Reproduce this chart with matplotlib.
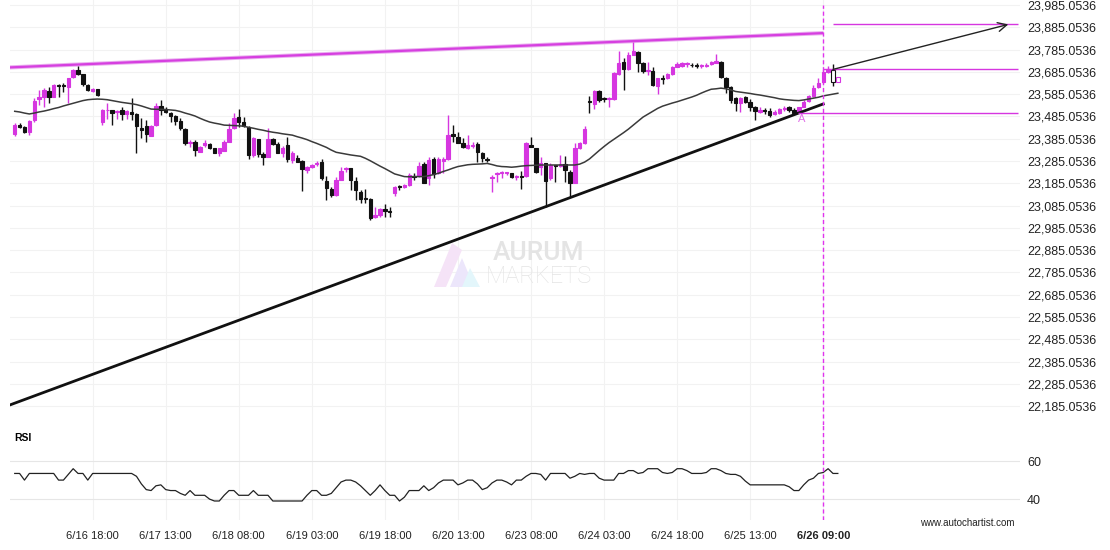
import matplotlib.pyplot as plt
from matplotlib.patches import Polygon
import numpy as np

plt.rcParams['font.family'] = ['Liberation Sans', 'DejaVu Sans']

# hourly candles (oldest first)
open_ = [23406, 23446, 23437, 23415, 23469, 23563, 23572, 23599, 23572, 23626,
         23624, 23619, 23662, 23693, 23675, 23626, 23601, 23608, 23462, 23512,
         23514, 23503, 23514, 23496, 23505, 23498, 23435, 23442, 23397, 23446,
         23532, 23518, 23500, 23488, 23464, 23428, 23367, 23372, 23327, 23357,
         23361, 23342, 23322, 23331, 23372, 23432, 23481, 23461, 23439, 23312,
         23382, 23316, 23304, 23384, 23361, 23322, 23357, 23289, 23297, 23286,
         23245, 23259, 23271, 23282, 23197, 23158, 23132, 23200, 23249, 23252,
         23197, 23147, 23118, 23113, 23032, 23043, 23068, 23059, 23140, 23173,
         23167, 23177, 23218, 23218, 23271, 23207, 23293, 23230, 23286, 23293,
         23404, 23394, 23367, 23342, 23354, 23361, 23322, 23294, 23207, 23227,
         23231, 23231, 23230, 23212, 23216, 23218, 23357, 23342, 23259, 23275,
         23207, 23266, 23264, 23270, 23237, 23188, 23342, 23364, 23553, 23541,
         23599, 23565, 23562, 23562, 23675, 23728, 23696, 23761, 23774, 23726,
         23687, 23689, 23622, 23657, 23656, 23675, 23708, 23711, 23719, 23717,
         23714, 23711, 23713, 23719, 23726, 23731, 23656, 23618, 23566, 23547,
         23571, 23551, 23529, 23506, 23512, 23511, 23496, 23499, 23520, 23526,
         23514, 23506, 23529, 23556, 23577, 23618, 23641, 23686, 23693, 23641]
close = [23446, 23437, 23415, 23464, 23554, 23570, 23604, 23572, 23626, 23622,
         23622, 23657, 23693, 23675, 23630, 23604, 23606, 23581, 23512, 23514,
         23500, 23509, 23496, 23509, 23496, 23440, 23424, 23406, 23442, 23532,
         23514, 23503, 23485, 23466, 23433, 23367, 23372, 23334, 23349, 23364,
         23342, 23322, 23342, 23372, 23428, 23477, 23461, 23442, 23312, 23387,
         23316, 23304, 23382, 23360, 23322, 23345, 23293, 23322, 23282, 23248,
         23257, 23267, 23275, 23207, 23162, 23132, 23200, 23241, 23253, 23200,
         23155, 23113, 23113, 23028, 23043, 23068, 23062, 23056, 23167, 23168,
         23177, 23222, 23213, 23262, 23188, 23289, 23227, 23293, 23293, 23402,
         23399, 23367, 23346, 23357, 23357, 23327, 23297, 23291, 23214, 23230,
         23234, 23234, 23212, 23214, 23213, 23364, 23346, 23237, 23275, 23197,
         23267, 23262, 23270, 23245, 23188, 23342, 23364, 23427, 23550, 23599,
         23559, 23562, 23566, 23678, 23726, 23696, 23761, 23780, 23726, 23690,
         23693, 23626, 23656, 23654, 23675, 23705, 23720, 23726, 23722, 23714,
         23711, 23713, 23716, 23729, 23732, 23661, 23618, 23559, 23547, 23566,
         23551, 23529, 23511, 23514, 23509, 23491, 23506, 23517, 23523, 23514,
         23502, 23526, 23551, 23577, 23611, 23634, 23686, 23696, 23641, 23661]
high = [23455, 23455, 23442, 23469, 23568, 23604, 23613, 23617, 23630, 23630,
        23635, 23657, 23696, 23711, 23675, 23630, 23613, 23608, 23518, 23547,
        23514, 23514, 23529, 23514, 23568, 23500, 23478, 23469, 23446, 23545,
        23559, 23529, 23506, 23491, 23478, 23433, 23379, 23379, 23352, 23379,
        23366, 23343, 23343, 23379, 23455, 23500, 23517, 23484, 23442, 23393,
        23384, 23325, 23434, 23388, 23372, 23352, 23394, 23330, 23312, 23289,
        23262, 23271, 23286, 23293, 23218, 23170, 23212, 23259, 23259, 23253,
        23214, 23155, 23159, 23120, 23080, 23074, 23091, 23080, 23173, 23177,
        23182, 23231, 23230, 23282, 23282, 23303, 23304, 23304, 23304, 23491,
        23446, 23417, 23387, 23402, 23372, 23372, 23327, 23304, 23222, 23237,
        23240, 23236, 23232, 23222, 23241, 23372, 23391, 23343, 23304, 23276,
        23276, 23267, 23312, 23307, 23245, 23367, 23372, 23442, 23577, 23604,
        23604, 23574, 23572, 23686, 23780, 23746, 23775, 23820, 23780, 23731,
        23731, 23705, 23657, 23671, 23678, 23711, 23731, 23731, 23731, 23726,
        23723, 23722, 23725, 23734, 23765, 23734, 23662, 23622, 23574, 23572,
        23577, 23562, 23532, 23529, 23521, 23521, 23514, 23523, 23532, 23532,
        23521, 23529, 23559, 23581, 23626, 23656, 23693, 23711, 23720, 23662]
low = [23397, 23433, 23411, 23402, 23460, 23536, 23527, 23545, 23572, 23572,
       23595, 23545, 23657, 23671, 23622, 23599, 23595, 23577, 23446, 23473,
       23446, 23473, 23469, 23473, 23469, 23321, 23388, 23370, 23397, 23442,
       23491, 23500, 23461, 23446, 23424, 23357, 23349, 23307, 23325, 23349,
       23339, 23321, 23309, 23330, 23370, 23428, 23439, 23439, 23294, 23304,
       23304, 23267, 23303, 23357, 23320, 23304, 23282, 23275, 23280, 23150,
       23230, 23252, 23262, 23200, 23110, 23125, 23128, 23200, 23236, 23155,
       23110, 23095, 23095, 23020, 23029, 23034, 23032, 23032, 23128, 23155,
       23164, 23173, 23200, 23214, 23185, 23177, 23207, 23227, 23230, 23289,
       23372, 23364, 23342, 23337, 23342, 23282, 23282, 23282, 23147, 23192,
       23207, 23222, 23207, 23200, 23158, 23214, 23346, 23230, 23222, 23080,
       23200, 23192, 23258, 23192, 23125, 23185, 23339, 23361, 23502, 23517,
       23551, 23551, 23526, 23559, 23671, 23604, 23693, 23761, 23686, 23678,
       23671, 23622, 23586, 23630, 23653, 23671, 23707, 23707, 23708, 23705,
       23701, 23702, 23707, 23716, 23723, 23656, 23589, 23544, 23511, 23506,
       23544, 23511, 23469, 23499, 23496, 23484, 23491, 23496, 23511, 23506,
       23496, 23500, 23526, 23551, 23574, 23611, 23634, 23681, 23622, 23639]
moving_avg = [23508, 23505, 23500, 23496, 23500, 23505, 23509, 23514, 23520, 23525,
              23532, 23538, 23544, 23550, 23556, 23560, 23562, 23563, 23562, 23560,
              23556, 23552, 23548, 23545, 23542, 23538, 23532, 23525, 23518, 23517,
              23517, 23516, 23514, 23512, 23507, 23500, 23494, 23487, 23477, 23468,
              23460, 23455, 23451, 23446, 23445, 23444, 23443, 23441, 23436, 23432,
              23427, 23423, 23418, 23414, 23411, 23407, 23404, 23401, 23394, 23388,
              23381, 23372, 23364, 23355, 23346, 23334, 23324, 23320, 23316, 23312,
              23309, 23306, 23297, 23286, 23274, 23262, 23251, 23239, 23227, 23221,
              23215, 23214, 23215, 23215, 23215, 23219, 23224, 23230, 23238, 23245,
              23253, 23260, 23264, 23268, 23270, 23271, 23272, 23274, 23269, 23263,
              23260, 23259, 23257, 23259, 23262, 23264, 23265, 23266, 23267, 23267,
              23267, 23267, 23267, 23267, 23267, 23267, 23271, 23280, 23294, 23313,
              23332, 23350, 23367, 23382, 23397, 23412, 23428, 23446, 23464, 23482,
              23495, 23508, 23521, 23531, 23538, 23545, 23551, 23558, 23565, 23572,
              23580, 23590, 23599, 23607, 23609, 23612, 23609, 23604, 23597, 23594,
              23591, 23588, 23584, 23581, 23577, 23573, 23569, 23564, 23561, 23559,
              23557, 23556, 23559, 23563, 23567, 23571, 23577, 23581, 23585, 23589]
rsi = [53.5, 53.5, 50, 53.5, 53.5, 53.5, 53.5, 53.5, 53.5, 50,
       50, 53, 56, 53.5, 53.5, 50, 53.5, 53.5, 53.5, 53.5,
       53.5, 53.5, 53.5, 53.5, 53.5, 52, 48, 45, 44.5, 47,
       47.5, 45, 44.5, 44.5, 43, 42, 44.5, 42, 42, 42,
       40, 39, 39, 42, 44.5, 44.5, 42, 42, 42, 44.5,
       42, 42, 42, 39, 39, 39, 39, 39, 39, 39,
       42, 44.5, 44.5, 42, 42, 43, 46, 49, 50, 50,
       49, 47, 44.5, 42, 44.5, 47.5, 44.5, 42, 42, 39,
       41, 44.5, 44.5, 44.5, 47, 44.5, 46, 48.5, 50, 50,
       50, 47.5, 48.5, 50, 50, 48, 45, 46, 48.5, 50,
       50, 49, 47.5, 50, 50, 52, 53.5, 53.5, 53, 50,
       53.5, 53.5, 53.5, 53.5, 51, 52, 53.5, 53, 53.5, 53.5,
       51, 50, 50, 50, 53.5, 53.5, 55, 55, 53.5, 54,
       56, 56, 56, 54, 53.5, 54, 56, 56, 55, 53.5,
       53.5, 53.5, 54, 56, 56, 55, 53.5, 53, 53, 52,
       49.5, 47.5, 47.5, 47.5, 47.5, 47.5, 47.5, 47.5, 47.5, 46.5,
       44.5, 44.5, 47.5, 50, 51, 53.5, 54, 56, 53.5, 53.5]

tick_pos = [16, 31, 46, 61, 76, 91, 106, 121, 136, 151, 166]
tick_lab = ['6/16 18:00', '6/17 13:00', '6/18 08:00', '6/19 03:00', '6/19 18:00',
            '6/20 13:00', '6/23 08:00', '6/24 03:00', '6/24 18:00', '6/25 13:00',
            '6/26 09:00']
price_levels = [23985.0536 - 100 * k for k in range(19)]

# pattern lines
resist_x, resist_y = [-1, 166], [23705, 23859]
support_x, support_y = [-1, 166], [22190, 23541]
now_idx = 166
proj_from, proj_to = (168, 23696), (204, 23898)
level_hi, level_mid, level_lo = 23898, 23696, 23499
level_lo_start = 160.9
mark_a = (161.5, 23473)

MAG = '#d636e0'
W, H = 1110, 550


def box(l, t, r, b):
    return [l / W, 1 - b / H, (r - l) / W, (b - t) / H]


fig = plt.figure(figsize=(W / 100, H / 100), dpi=100)
ax = fig.add_axes(box(10, 0, 1020, 425))
rx = fig.add_axes(box(10, 425, 1020, 520), sharex=ax)

x = np.arange(len(close))
o = np.array(open_, float)
c = np.array(close, float)
up = c >= o
cols = np.where(up, MAG, '#111111')

# watermark
fig.text(539 / W, 1 - 253 / H, 'AURUM', fontsize=19, family='Roboto', fontweight='medium',
         color='#e4e4e4', ha='center', va='center', zorder=0)
fig.text(539 / W, 1 - 276 / H, 'MARKETS', fontsize=17, family='Roboto', fontweight='light',
         color='#e4e4e4', ha='center', va='center', zorder=0)
for pts, fc in [([(434, 287), (452, 243), (462, 250), (446, 287)], '#f5e3f7'),
                ([(450, 287), (462, 258), (474, 287)], '#ece6fb'),
                ([(462, 287), (470, 268), (480, 287)], '#e3f6fb')]:
    fig.patches.append(Polygon([(px / W, 1 - py / H) for px, py in pts], closed=True,
                               transform=fig.transFigure, fc=fc, ec='none', zorder=0))

# candles
ax.vlines(x, low, high, colors=cols, lw=1, zorder=3)
body_h = np.maximum(np.abs(c - o), 4)
face = list(cols)
face[-2:] = ['white', 'white']
ax.bar(x, body_h, bottom=np.minimum(o, c), width=0.7, color=face, edgecolor=cols,
       linewidth=0.8, zorder=4)
ax.plot(x, moving_avg, color='#3a3a3a', lw=1.1, zorder=5)

# trend lines and projection
ax.plot(resist_x, resist_y, color='#eab0ef', lw=3, solid_capstyle='butt', zorder=2)
ax.plot(resist_x, resist_y, color='#d63fe0', lw=1.6, solid_capstyle='butt', zorder=2)
ax.plot(support_x, support_y, color='#111111', lw=2, zorder=6)
ax.hlines(level_hi, proj_from[0], 205.9, color=MAG, lw=1, zorder=6)
ax.hlines(level_mid, now_idx, 205.9, color=MAG, lw=1, zorder=6)
ax.hlines(level_lo, level_lo_start, 205.9, color=MAG, lw=1, zorder=6)
ax.annotate('', xy=proj_to, xytext=proj_from,
            arrowprops=dict(arrowstyle='->', color='#222222', lw=1, mutation_scale=16,
                            shrinkA=0, shrinkB=0), zorder=7)
ax.text(mark_a[0], mark_a[1], 'A', color='#e070e8', fontsize=8, ha='center', va='center')
ax.axvline(now_idx, ymax=1 - 5 / 425, color='#e033ee', lw=1, ls=(0, (3, 2)), zorder=7)

ax.set_xlim(-0.97, 206.4)
ax.set_ylim(22100.1, 24007.5)
ax.set_yticks(price_levels)
ax.set_yticklabels([f'{v:,.4f}' for v in price_levels])
ax.yaxis.tick_right()
ax.tick_params(axis='y', length=0, pad=5, labelsize=9, labelcolor='#222222')
ax.tick_params(axis='x', length=0, labelbottom=False)
ax.set_xticks(tick_pos)
ax.grid(True, color='#f2f2f2', lw=0.8, zorder=0)
ax.set_axisbelow(True)
for s in ax.spines.values():
    s.set_visible(False)

# RSI panel
rx.plot(x, rsi, color='#222222', lw=0.9)
rx.axvline(now_idx, color='#e033ee', lw=1, ls=(0, (3, 2)))
rx.set_ylim(29, 79)
rx.set_yticks([40, 60])
rx.yaxis.tick_right()
rx.tick_params(axis='y', length=0, pad=5, labelsize=9, labelcolor='#222222')
rx.set_xticks(tick_pos)
rx.set_xticklabels(tick_lab)
rx.tick_params(axis='x', length=0, pad=8, labelsize=8, labelcolor='#222222')
rx.get_xticklabels()[-1].set_fontweight('bold')
rx.grid(True, color='#e6e6e6', lw=0.8)
rx.xaxis.grid(True, color='#f2f2f2')
rx.set_axisbelow(True)
for s in rx.spines.values():
    s.set_visible(False)

fig.text(14 / W, 1 - 438 / H, 'RSI', fontsize=7.5, fontweight='bold', va='center')
fig.text(1015 / W, 1 - 523 / H, 'www.autochartist.com', fontsize=7, ha='right',
         va='center', color='#222222')

fig.savefig('out.png', dpi=100)
